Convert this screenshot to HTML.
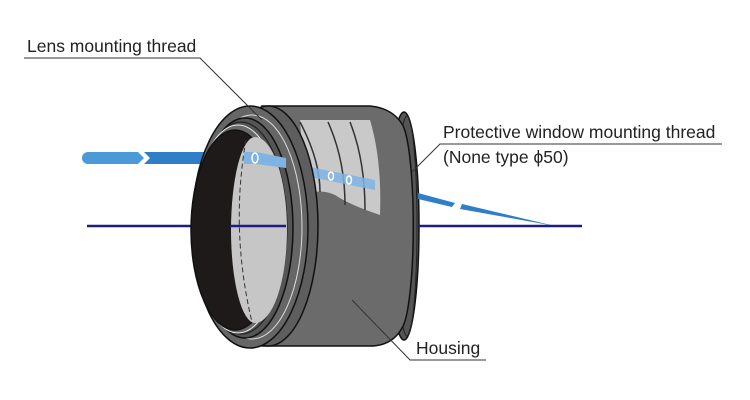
<!DOCTYPE html>
<html><head><meta charset="utf-8"><style>
html,body{margin:0;padding:0;background:#fff;width:750px;height:400px;overflow:hidden}
text{font-family:"Liberation Sans","Noto Sans CJK JP",sans-serif;font-size:17.5px;fill:#222}
</style></head><body>
<svg width="750" height="400" viewBox="0 0 750 400" xmlns="http://www.w3.org/2000/svg">
<!-- incoming beam -->
<path d="M88 152 H138 L144 158 L138 164 H88 A6 6 0 0 1 88 152Z" fill="#4a9ad8"/>
<path d="M144 152 H255 V164 H144 L150 158Z" fill="#2f7fc8"/>
<line x1="87" y1="226" x2="240" y2="226" stroke="#1a1f80" stroke-width="2.5"/>
<!-- back flange -->
<ellipse cx="404" cy="226" rx="15" ry="114" fill="#555" stroke="#111" stroke-width="1.5"/>
<ellipse cx="407" cy="226" rx="10" ry="110" fill="none" stroke="#222" stroke-width="1"/>
<!-- body -->
<path d="M262 106 H370 Q392 108 402 124 A14 104 0 0 1 402 328 Q392 346 370 346 H262 Z" fill="#6b6b6b" stroke="#111" stroke-width="1.5"/>
<!-- window cut -->
<path d="M300 120 H370 Q382 160 380 215 Q350 205 335 195 Q320 188 305 195 Z" fill="#c9c9c9"/>
<path d="M328 122 Q345 160 345 205 M350 122 Q365 160 365 210" stroke="#333" stroke-width="1.5" fill="none"/>
<path d="M300 122 Q320 160 320 192" stroke="#333" stroke-width="1.5" fill="none"/>
<path d="M255 156 L375 180 L375 190 L255 166Z" fill="#7fb3e6" opacity="0.85"/>
<!-- front ring -->
<ellipse cx="268" cy="226" rx="50" ry="120" fill="#5e5e5e" stroke="#111" stroke-width="1.5"/>
<ellipse cx="250" cy="227" rx="58" ry="121" fill="#666" stroke="#111" stroke-width="1.5"/>
<ellipse cx="252" cy="227" rx="50" ry="112" fill="none" stroke="#ddd" stroke-width="1"/>
<ellipse cx="245" cy="228" rx="48" ry="110" fill="#555" stroke="#111" stroke-width="1.5"/>
<ellipse cx="241" cy="228" rx="46" ry="106" fill="none" stroke="#222" stroke-width="1.2"/>
<ellipse cx="238" cy="229" rx="45" ry="104" fill="#6a6a6a" stroke="#eee" stroke-width="1"/>
<ellipse cx="235" cy="230" rx="44" ry="100" fill="#1e1a1a" stroke="#111" stroke-width="1.5"/>
<path d="M255 137 A32 93 0 0 1 255 323 A24 93 0 0 1 255 137Z" fill="#c6c6c6"/>
<path d="M246 140 Q230 230 252 322" stroke="#333" stroke-dasharray="5 3" fill="none"/>
<path d="M244 152 H256 L286 158 V168 L256 164 H244Z" fill="#7fb3e6"/>
<line x1="230" y1="226" x2="286" y2="226" stroke="#1a1f80" stroke-width="2.5"/>
<ellipse cx="255" cy="158" rx="3" ry="5" fill="none" stroke="#fff" stroke-width="1.5"/>
<ellipse cx="331" cy="176" rx="2.5" ry="4" fill="none" stroke="#fff" stroke-width="1.5"/>
<ellipse cx="349" cy="180" rx="2.5" ry="4" fill="none" stroke="#fff" stroke-width="1.5"/>
<!-- exit beam -->
<path d="M418 193 L455 203 L452 207 L418 199Z" fill="#2f7fc8"/>
<path d="M462 204 L555 226 L460 209Z" fill="#2f7fc8"/>
<line x1="418" y1="226" x2="582" y2="226" stroke="#1a1f80" stroke-width="2.5"/>
<!-- labels -->
<text x="27" y="52">Lens mounting thread</text>
<polyline points="24,58 200,58 262,120" fill="none" stroke="#333" stroke-width="1"/>
<text x="443" y="138">Protective window mounting thread</text>
<text x="443" y="163">(None type ϕ50)</text>
<polyline points="722,144 440,144 412,172" fill="none" stroke="#333" stroke-width="1"/>
<text x="416" y="354">Housing</text>
<polyline points="486,360 410,360 352,300" fill="none" stroke="#333" stroke-width="1"/>
</svg>
</body></html>
